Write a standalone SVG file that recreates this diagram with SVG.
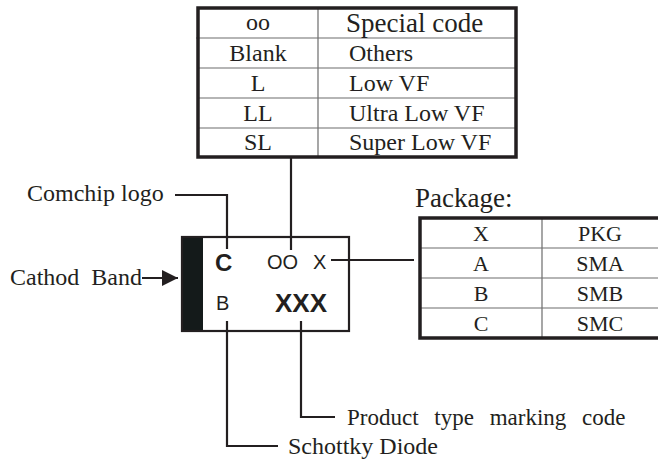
<svg xmlns="http://www.w3.org/2000/svg" width="658" height="462" viewBox="0 0 658 462">
<style>
.serif{font-family:"Liberation Serif","Times New Roman",serif;fill:#231f20}
.sans{font-family:"Liberation Sans",Arial,sans-serif;fill:#231f20}
.thick{fill:none;stroke:#231f20;stroke-width:3.5}
.thin{fill:none;stroke:#6d6d6d;stroke-width:1.2}
.lead{fill:none;stroke:#231f20;stroke-width:2.2}
.c{text-anchor:middle}
</style>
<defs>
<marker id="arr" viewBox="0 0 10 10" refX="10" refY="5" markerWidth="17" markerHeight="16" markerUnits="userSpaceOnUse" orient="auto">
<path d="M0,0 L10,5 L0,10 z" fill="#231f20"/>
</marker>
</defs>

<g id="special-code-table">
<path class="thin" d="M196,38 H516 M198,68 H516 M198,98 H516 M198,128 H516 M318,8 V157"/>
<rect class="thick" x="198" y="8" width="318" height="149"/>
<g class="serif" font-size="24">
<text class="c" x="258" y="30">oo</text>
<text x="346" y="32" font-size="27">Special code</text>
<text class="c" x="258" y="61">Blank</text>
<text x="349" y="61">Others</text>
<text class="c" x="258" y="91">L</text>
<text x="349" y="91">Low VF</text>
<text class="c" x="258" y="121">LL</text>
<text x="349" y="121">Ultra Low VF</text>
<text class="c" x="258" y="150">SL</text>
<text x="349" y="150">Super Low VF</text>
</g>
</g>

<g id="package-table">
<text class="serif" x="415" y="207" font-size="27">Package:</text>
<path class="thin" d="M420,248 H660 M420,278 H660 M420,308 H660 M542,218 V338"/>
<path class="thick" d="M660,218 H420 V338 H660"/>
<g class="serif" font-size="22">
<text class="c" x="481" y="241">X</text>
<text class="c" x="600" y="241">PKG</text>
<text class="c" x="481" y="271">A</text>
<text class="c" x="600" y="271">SMA</text>
<text class="c" x="481" y="301">B</text>
<text class="c" x="600" y="301">SMB</text>
<text class="c" x="481" y="331">C</text>
<text class="c" x="600" y="331">SMC</text>
</g>
</g>

<g id="chip">
<rect x="182" y="237" width="21" height="94" fill="#141a1a"/>
<rect class="lead" x="182" y="237" width="167" height="94"/>
<text class="sans" x="215" y="271" font-size="24" font-weight="bold">C</text>
<text class="sans" x="267" y="269" font-size="20">OO</text>
<text class="sans" x="313" y="269" font-size="20">X</text>
<text class="sans" x="216" y="310" font-size="20">B</text>
<text class="sans" x="275" y="312" font-size="26" font-weight="bold">XXX</text>
</g>

<g id="labels">
<text class="serif" x="27" y="201" font-size="24">Comchip logo</text>
<text class="serif" x="10" y="285" font-size="24" xml:space="preserve">Cathod  Band</text>
<text class="serif" x="347" y="425" font-size="23" word-spacing="10">Product type marking code</text>
<text class="serif" x="288" y="454" font-size="24">Schottky Diode</text>
</g>

<g id="connectors">
<path class="lead" d="M175,195 H227 V249"/>
<path class="lead" d="M291,157 V250"/>
<path class="lead" d="M331,260 H414"/>
<path class="lead" d="M227,321 V446 H278"/>
<path class="lead" d="M301,321 V417 H335"/>
<path class="lead" d="M142,278 H178" marker-end="url(#arr)"/>
</g>
</svg>
